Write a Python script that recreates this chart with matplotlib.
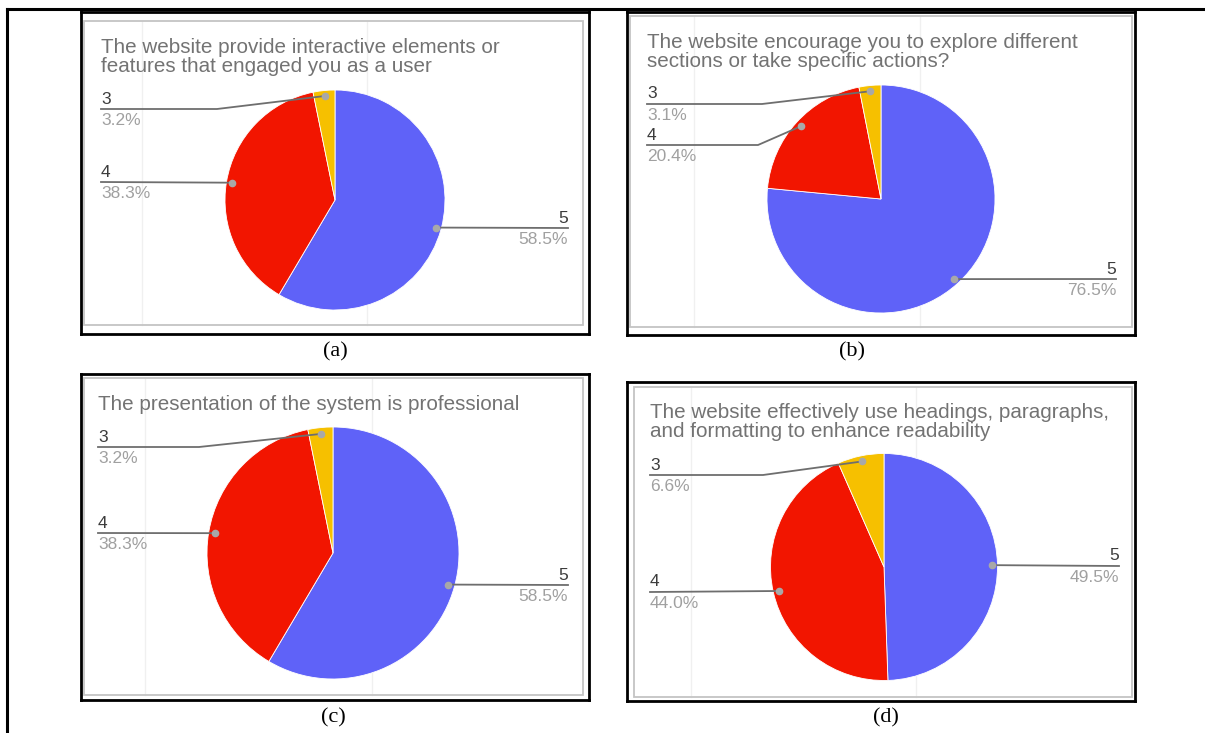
import numpy as np
import matplotlib
matplotlib.use("Agg")
import matplotlib.pyplot as plt
from matplotlib.patches import Rectangle

# ---- data ----
levels = ["5", "4", "3"]
shares_a = [58.5, 38.3, 3.2]
shares_b = [76.5, 20.4, 3.1]
shares_c = [58.5, 38.3, 3.2]
shares_d = [49.5, 44.0, 6.6]
titles = [
    "The website provide interactive elements or\nfeatures that engaged you as a user",
    "The website encourage you to explore different\nsections or take specific actions?",
    "The presentation of the system is professional",
    "The website effectively use headings, paragraphs,\nand formatting to enhance readability",
]
captions = ["(a)", "(b)", "(c)", "(d)"]

slice_colors = ["#5F62F8", "#F21500", "#F6C000"]

W, H = 1205, 733

# ---- layout, in image pixels (y measured downward) ----
panels = [
    dict(shares=shares_a, frame=(81, 12, 589, 334), inner=(84, 21, 583, 325),
         center=(335, 200), r=110, title_xy=(101, 38), lx=101, rx=568,
         line_y={"3": 109, "4": 182, "5": 228}, elbow={"3": 217},
         cap_xy=(335, 352), vlines=(142, 367)),
    dict(shares=shares_b, frame=(627, 12, 1135, 335), inner=(630, 16, 1132, 327),
         center=(881, 199), r=114, title_xy=(647, 33), lx=647, rx=1116,
         line_y={"3": 104, "4": 145, "5": 279}, elbow={"3": 762, "4": 758},
         cap_xy=(852, 352), vlines=(694, 920)),
    dict(shares=shares_c, frame=(81, 374, 589, 700), inner=(84, 378, 583, 695),
         center=(333, 553), r=126, title_xy=(98, 395), lx=98, rx=568,
         line_y={"3": 447, "4": 533, "5": 585}, elbow={"3": 199},
         cap_xy=(333, 718), vlines=(145, 372)),
    dict(shares=shares_d, frame=(627, 382, 1135, 701), inner=(634, 387, 1132, 697),
         center=(884, 567), r=113.5, title_xy=(650, 403), lx=650, rx=1119,
         line_y={"3": 475, "4": 592, "5": 566}, elbow={"3": 763},
         cap_xy=(886, 718), vlines=(691, 916)),
]

plt.rcParams["font.family"] = ["Liberation Sans", "DejaVu Sans"]

fig = plt.figure(figsize=(W / 100, H / 100), dpi=100)
fig.patch.set_facecolor("white")

# outer table lines
bg = fig.add_axes([0, 0, 1, 1])
bg.set_xlim(0, W)
bg.set_ylim(0, H)
bg.axis("off")
bg.plot([7, 7], [0, H - 9], color="black", lw=2.2)
bg.plot([7, W], [H - 9, H - 9], color="black", lw=2.2)

for p, title, cap in zip(panels, titles, captions):
    x0, y0, x1, y1 = p["frame"]
    ax = fig.add_axes([x0 / W, 1 - y1 / H, (x1 - x0) / W, (y1 - y0) / H])
    cx, cy = p["center"]
    r = p["r"]
    wedges, _ = ax.pie(p["shares"], colors=slice_colors, startangle=90,
                       counterclock=False, center=(cx, H - cy), radius=r,
                       wedgeprops=dict(edgecolor="white", linewidth=0.6))
    ax.set_aspect("auto")
    ax.set_xlim(x0, x1)
    ax.set_ylim(H - y1, H - y0)
    ax.set_frame_on(True)
    for s in ax.spines.values():
        s.set_color("black")
        s.set_linewidth(2)

    # google sheets chart border and faint grid remains
    ix0, iy0, ix1, iy1 = p["inner"]
    ax.add_patch(Rectangle((ix0, H - iy1), ix1 - ix0, iy1 - iy0, fill=False,
                           edgecolor="#C4C4C4", lw=1.3, zorder=0))
    for vx in p["vlines"]:
        ax.plot([vx, vx], [H - iy1, H - iy0], color="#F0F0F0", lw=1, zorder=-1)

    tx, ty = p["title_xy"]
    ax.text(tx, H - ty, title, ha="left", va="top", fontsize=14.9,
            color="#737373", linespacing=0.97)

    # leader lines and labels
    for w, lev, val in zip(wedges, levels, p["shares"]):
        mid = np.deg2rad((w.theta1 + w.theta2) / 2)
        dx = cx + 0.95 * r * np.cos(mid)
        dy = (H - cy) + 0.95 * r * np.sin(mid)
        ly = H - p["line_y"][lev]
        if np.cos(mid) < 0:
            ex = p["elbow"].get(lev)
            xs = [p["lx"], ex, dx] if ex else [p["lx"], dx]
            ys = [ly, ly, dy] if ex else [ly, dy]
            tx_, ha = p["lx"], "left"
        else:
            xs, ys = [dx, p["rx"]], [dy, ly]
            tx_, ha = p["rx"], "right"
        ax.plot(xs, ys, color="#6E6E6E", lw=1.3, zorder=3)
        ax.plot(dx, dy, "o", ms=4.5, color="#A8A8A8", zorder=4)
        ax.text(tx_, ly + 5.5, lev, ha=ha, va="baseline", fontsize=12.5,
                color="#3C3C3C")
        ax.text(tx_, ly - 4, f"{val:.1f}%", ha=ha, va="top", fontsize=12.5,
                color="#A0A0A0")

    capx, capy = p["cap_xy"]
    bg.text(capx, H - capy, cap, ha="center", va="center", fontsize=16,
            family="Liberation Serif", color="black")

fig.savefig("out.png", dpi=100)
